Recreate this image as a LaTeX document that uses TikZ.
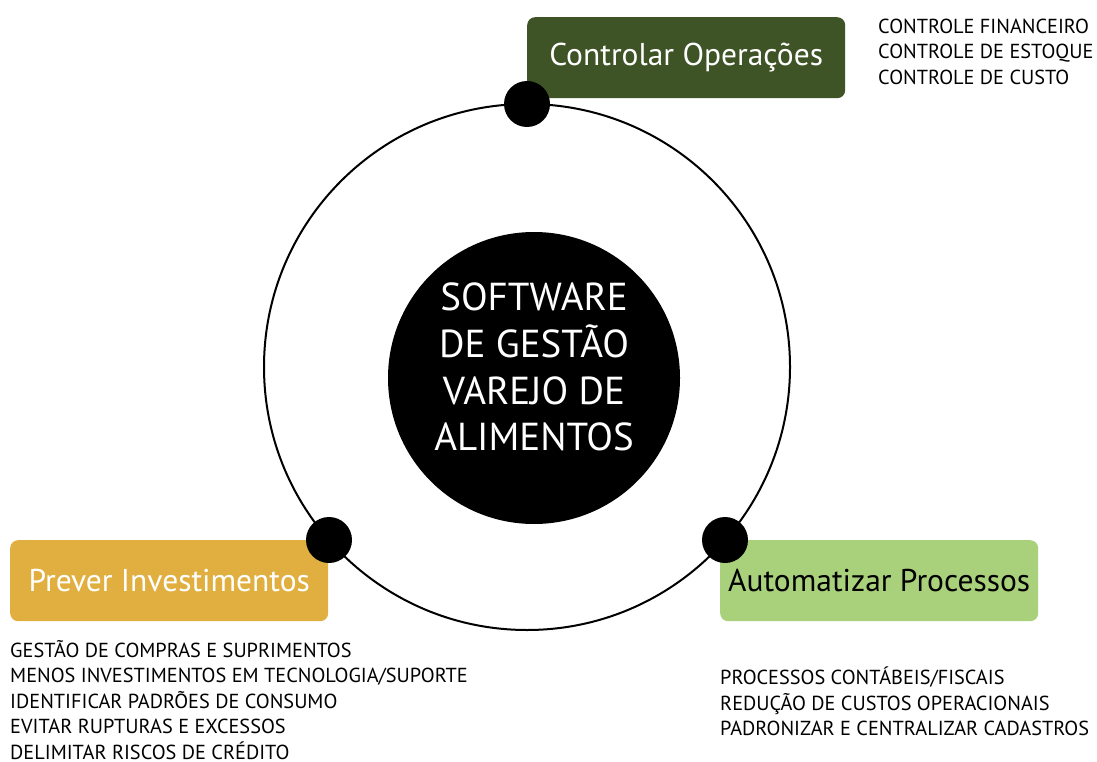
\documentclass[tikz,border=0pt]{standalone}
\usepackage{fontspec}
\setmainfont{PT Sans}
\definecolor{opgreen}{HTML}{3F5426}
\definecolor{invgold}{HTML}{E0AF40}
\definecolor{autogreen}{HTML}{A9D07B}
\begin{document}
\begin{tikzpicture}[x=1pt,y=-1pt,
  ring/.style={circle,draw=black,line width=2pt,minimum size=526pt,inner sep=0pt},
  hub/.style={circle,fill=black,minimum size=292pt,inner sep=0pt},
  hubtext/.style={text=white,align=center,inner sep=0pt,
    font=\fontsize{39}{46.7}\selectfont},
  dot/.style={circle,fill=black,minimum size=46pt,inner sep=0pt},
  pillar/.style={rounded corners=8pt,minimum width=318pt,minimum height=81pt,inner sep=0pt,
    anchor=north west,font=\fontsize{31.5}{36}\selectfont},
  items/.style={anchor=north west,inner sep=0pt,align=left,
    font=\fontsize{20.3}{25.5}\selectfont}]
\useasboundingbox[fill=white] (0,0) rectangle (1097,762);

% outer ring and central hub
\node[ring] (ring) at (527,367) {};
\node[hub] (hub) at (534,378) {};
\node[hubtext] (title) at (534,367) {SOFTWARE\\DE GESTÃO\\VAREJO DE\\ALIMENTOS};

% the three pillars
\node[pillar,fill=opgreen,text=white] (ctrl) at (527,17) {Controlar Operações};
\node[pillar,fill=invgold,text=white] (prev) at (10,540) {Prever Investimentos};
\node[pillar,fill=autogreen,text=black] (auto) at (720,540) {Automatizar Processos};

% markers on the ring
\node[dot] (dctrl) at (527,104) {};
\node[dot] (dprev) at (329,540) {};
\node[dot] (dauto) at (725,540) {};

% item lists
\node[items] (lctrl) at (878,18.5) {CONTROLE FINANCEIRO\\CONTROLE DE ESTOQUE\\CONTROLE DE CUSTO};
\node[items] (lprev) at (10,640) {GESTÃO DE COMPRAS E SUPRIMENTOS\\MENOS INVESTIMENTOS EM TECNOLOGIA/SUPORTE\\IDENTIFICAR PADRÕES DE CONSUMO\\EVITAR RUPTURAS E EXCESSOS\\DELIMITAR RISCOS DE CRÉDITO};
\node[items] (lauto) at (720,667) {PROCESSOS CONTÁBEIS/FISCAIS\\REDUÇÃO DE CUSTOS OPERACIONAIS\\PADRONIZAR E CENTRALIZAR CADASTROS};
\end{tikzpicture}
\end{document}
